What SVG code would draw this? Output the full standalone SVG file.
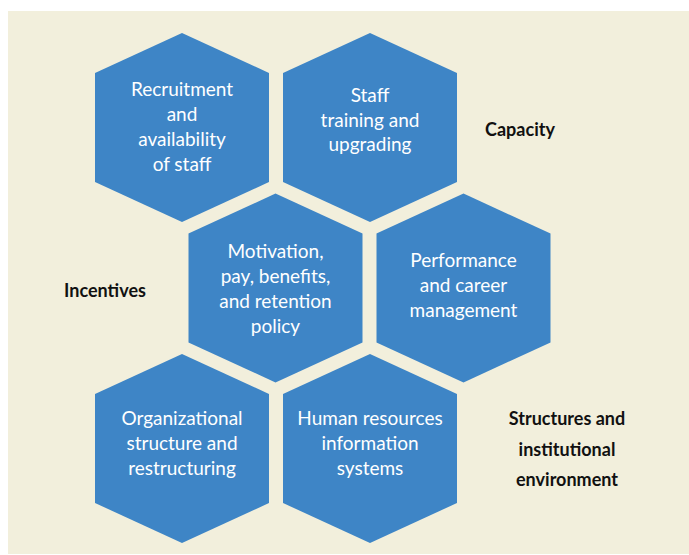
<svg xmlns="http://www.w3.org/2000/svg" width="689" height="555" viewBox="0 0 689 555">
<style>
.hex{fill:#3E85C6}
.t{font-family:Lato,"Noto Sans",sans-serif;font-size:19px;fill:#ffffff;text-anchor:middle}
.l{font-family:Lato,"Noto Sans",sans-serif;font-size:18px;font-weight:bold;fill:#111111;text-anchor:middle}
</style>
<defs>
<path id="h" d="M0,-94.5 L87,-54.5 L87,54.5 L0,94.5 L-87,54.5 L-87,-54.5 Z"/>
</defs>
<rect width="689" height="555" fill="#ffffff"/>
<rect x="8" y="11" width="681" height="543" fill="#F2EFDC"/>
<g id="connectors"></g>
<g id="n1"><use href="#h" class="hex" x="182" y="127.5"/>
<text class="t" x="182" y="96">Recruitment</text><text class="t" x="182" y="121">and</text><text class="t" x="182" y="146">availability</text><text class="t" x="182" y="171">of staff</text></g>
<g id="n2"><use href="#h" class="hex" x="370" y="127.5"/>
<text class="t" x="370" y="102">Staff</text><text class="t" x="370" y="127">training and</text><text class="t" x="370" y="151">upgrading</text></g>
<g id="n3"><use href="#h" class="hex" x="275.5" y="288"/>
<text class="t" x="275.5" y="258">Motivation,</text><text class="t" x="275.5" y="283">pay, benefits,</text><text class="t" x="275.5" y="308">and retention</text><text class="t" x="275.5" y="333">policy</text></g>
<g id="n4"><use href="#h" class="hex" x="463.5" y="288"/>
<text class="t" x="463.5" y="267">Performance</text><text class="t" x="463.5" y="292">and career</text><text class="t" x="463.5" y="317">management</text></g>
<g id="n5"><use href="#h" class="hex" x="182" y="448.5"/>
<text class="t" x="182" y="425">Organizational</text><text class="t" x="182" y="450">structure and</text><text class="t" x="182" y="475">restructuring</text></g>
<g id="n6"><use href="#h" class="hex" x="370" y="448.5"/>
<text class="t" x="370" y="425">Human resources</text><text class="t" x="370" y="450">information</text><text class="t" x="370" y="475">systems</text></g>
<g id="labels">
<text class="l" x="520" y="136">Capacity</text>
<text class="l" x="105" y="297">Incentives</text>
<text class="l" x="567" y="425">Structures and</text>
<text class="l" x="567" y="456">institutional</text>
<text class="l" x="567" y="486">environment</text>
</g>
</svg>
